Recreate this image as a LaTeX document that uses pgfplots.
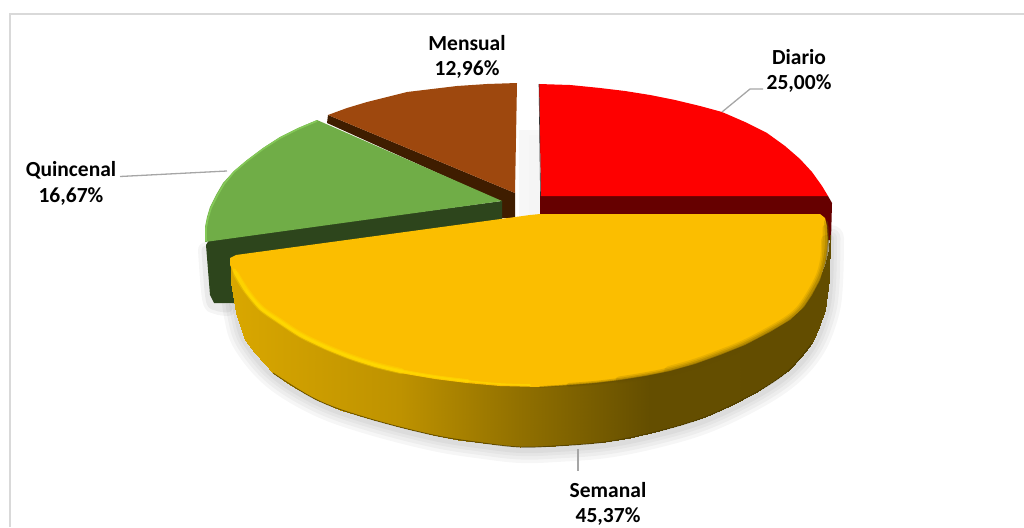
\documentclass[border=0pt]{standalone}
\usepackage{pgfplots}
\usepackage{pgfplotstable}
\pgfplotsset{compat=1.18}
\usepackage{fontspec}
\setmainfont{Carlito}
\definecolor{cRed}{HTML}{FE0000}
\definecolor{cRedD}{HTML}{660000}
\definecolor{cBrown}{HTML}{9E480E}
\definecolor{cBrownD}{HTML}{3F1D00}
\definecolor{cGreen}{HTML}{70AD47}
\definecolor{cGreenL}{HTML}{84C858}
\definecolor{cGreenD}{HTML}{2D451C}
\definecolor{cYel}{HTML}{FBBE00}
\definecolor{cYelL}{HTML}{FFDD00}
\definecolor{cYelD}{HTML}{634D00}
\definecolor{cLead}{HTML}{A6A6A6}
\definecolor{cFrame}{HTML}{D9D9D9}
\pgfplotstableread{
x y
831 238
830 283
826 313
813 346
790 373
756 396
706 420
656 435
606 445
556 449
521 450
484 446
434 438
368 421
318 403
274 376
246 343
237 316
233 283
}\outerarc
\pgfplotstableread{
x y c
231 264 1
231 282 1
236 313 6
236 268 6
236 268 6
236 313 6
245 340 15
245 282 15
245 282 15
245 340 15
255 353 25
255 295 25
255 295 25
255 353 25
273 373 43
273 310 43
273 310 43
273 373 43
290 385 60
290 320 60
290 320 60
290 385 60
317 400 87
317 335 87
317 335 87
317 400 87
340 410 110
340 345 110
340 345 110
340 410 110
367 418 137
367 355 137
367 355 137
367 418 137
400 427 170
400 365 170
400 365 170
400 427 170
433 435 203
433 372 203
433 372 203
433 435 203
458 440 228
458 375 228
458 375 228
458 440 228
483 443 253
483 378 253
483 378 253
483 443 253
520 447 290
520 380 290
520 380 290
520 447 290
555 446 325
555 380 325
555 380 325
555 446 325
605 442 375
605 376 375
605 376 375
605 442 375
630 438 400
630 373 400
630 373 400
630 438 400
655 432 425
655 368 425
655 368 425
655 432 425
680 425 450
680 360 450
680 360 450
680 425 450
705 417 475
705 352 475
705 352 475
705 417 475
730 406 500
730 342 500
730 342 500
730 406 500
755 393 525
755 330 525
755 330 525
755 393 525
772 382 542
772 322 542
772 322 542
772 382 542
789 370 559
789 310 559
789 310 559
789 370 559
801 357 571
801 302 571
801 302 571
801 357 571
812 343 582
812 290 582
812 290 582
812 343 582
819 327 589
819 280 589
819 280 589
819 327 589
825 310 595
825 265 595
825 265 595
825 310 595
829 280 599
829 250 599
829 250 599
829 280 599
830 236 600
830 235 600
}\sidequads
\tikzset{soft/.style={draw=black,line join=round,line cap=round,smooth,tension=0.6}}
\begin{document}
\begin{tikzpicture}
\path[use as bounding box] (0,0) rectangle (1024pt,527pt);
\begin{axis}[
  at={(0,0)},anchor=south west,
  width=1024pt,height=527pt,scale only axis,
  xmin=0,xmax=1024,ymin=0,ymax=527,y dir=reverse,
  hide axis,clip=true,
  colormap={yside}{rgb255(0)=(217,167,0) rgb255(170)=(190,146,0) rgb255(290)=(145,112,0) rgb255(420)=(100,78,0) rgb255(600)=(99,77,0)},
  point meta min=0,point meta max=600]
% frame
\addplot[draw=cFrame,line width=1.6pt] coordinates {(10,527)(10,14)(1024,14)};
% shadows
\addplot[fill=black!3,draw=none] coordinates {(519,130)(541,130)(541,216)(519,216)};
\addplot[fill=black!4,draw=none] coordinates {(529,135)(541,135)(541,216)(529,216)};
\addplot[soft,opacity=0.035,line width=26pt] table {\outerarc};
\addplot[soft,opacity=0.035,line width=19pt] table {\outerarc};
\addplot[soft,opacity=0.035,line width=12pt] table {\outerarc};
\addplot[soft,opacity=0.04,line width=6pt] table {\outerarc};
\addplot[soft,opacity=0.04,line width=16pt] coordinates {(206,250)(210,298)(216,306)(228,308)};
\addplot[soft,opacity=0.05,line width=9pt] coordinates {(206,250)(210,298)(216,306)(228,308)};
% Diario
\addplot[fill=cRedD,draw=none] coordinates {(540,196)(828,196)(832,203)(831,240)(540,240)};
\addplot[fill=cRed,draw=none] coordinates {(541,196)(539,84)(570,85)(600,88)(625,91)(650,95)(675,100)(700,106)(722,112)(745,122)(767,133)(785,146)(800,159)(812,172)(822,186)(828,196)};
\addplot[draw=black!80,line width=0.6pt] coordinates {(539,84)(540.5,196)};
% Mensual
\addplot[fill=cBrownD,draw=none] coordinates {(328,115)(327,123)(502,202)(502,218)(515,218)(515,193)};
\addplot[fill=cBrown,draw=none] coordinates {(515,193)(517,83)(487,84)(457,86)(432,89)(407,92)(387,97)(367,102)(347,108)(328,115)};
% Quincenal
\addplot[fill=cGreenD,draw=none] coordinates {(502,201)(209,240)(206,245)(210,295)(214,303)(235,303)(235,262)(502,222)};
\addplot[fill=cGreen,draw=none] coordinates {(502,201)(317,120)(298,128)(280,137)(263,148)(247,160)(234,171)(223,183)(216,195)(210,207)(207,217)(205,227)(205,242)};
\addplot[draw=cGreenL,line width=1.6pt,line join=round] coordinates {(317,121)(298,129)(280,138)(263,149)(247,161)(234,172)(224,184)(217,196)(211,208)(208,218)(206,228)(206,241)};
% Semanal, side
\addplot[patch,patch type=rectangle,shader=interp,point meta=\thisrow{c}] table {\sidequads};
\addplot[draw=cYelD!70!black,opacity=0.7,line width=0.9pt,smooth,tension=0.6] coordinates {(812,343)(789,370)(755,393)(705,417)(655,432)(605,442)(555,446)(520,447)(483,443)(433,435)(367,418)(317,400)(273,373)};
% Semanal, top
\addplot[fill=cYel,draw=none] coordinates {(230,258)(236,255)(530,215)(540,214)(820,214)(825,218)(827,226)(828,240)(826,260)(820,280)(812,295)(804,307)(790,320)(770,332)(745,345)(720,355)(695,364)(670,371)(645,376)(620,380)(595,383)(570,385)(540,387)(500,386)(467,383)(435,379)(400,373)(375,367)(350,359)(325,349)(300,337)(280,324)(260,310)(245,292)(235,275)(230,265)};
% rim, light part
\addplot[draw=cYelL,opacity=0.35,line width=6pt,line cap=round,smooth,tension=0.6] coordinates {(236,274)(246,290)(261,308)(281,322)(301,335)(326,347)(351,357)(376,365)(401,371)};
\addplot[draw=cYelL,opacity=0.5,line width=3.6pt,line cap=round,smooth,tension=0.6] coordinates {(234,270)(246,290)(261,308)(281,322)(301,335)(326,347)(351,357)(376,365)(401,371)(436,377)(468,381)};
\addplot[draw=cYelL,opacity=0.6,line width=1.6pt,line cap=round,smooth,tension=0.6] coordinates {(246,290)(261,308)(281,322)(301,335)(326,347)(351,357)(376,365)(401,371)(436,377)(468,381)(500,384)(530,385)};
% rim, dark part
\addplot[draw=cYelD,opacity=0.12,line width=10pt,line cap=round,smooth,tension=0.6] coordinates {(826,240)(825,260)(819,280)(803,307)(789,320)(769,332)(744,345)(719,355)(694,364)(669,371)};
\addplot[draw=cYelD,opacity=0.16,line width=7pt,line cap=round,smooth,tension=0.6] coordinates {(826,228)(826,240)(825,260)(819,280)(803,307)(789,320)(769,332)(744,345)(719,355)(694,364)(669,371)(644,376)(619,380)};
\addplot[draw=cYelD,opacity=0.22,line width=4pt,line cap=round,smooth,tension=0.6] coordinates {(826,222)(827,240)(825,260)(819,280)(803,307)(789,320)(769,332)(744,345)(719,355)(694,364)(669,371)(644,376)(619,380)(594,383)(569,385)};
\addplot[draw=cYelD,opacity=0.35,line width=1.6pt,line cap=round,smooth,tension=0.6] coordinates {(827,222)(828,240)(826,260)(820,280)(804,307)(790,320)(770,332)(745,345)(720,355)(695,364)(670,371)(645,376)(620,380)(595,383)(570,385)(540,387)};
% leaders
\addplot[draw=cLead,line width=1.3pt] coordinates {(722,112)(750,89)(763,89)};
\addplot[draw=cLead,line width=1.3pt] coordinates {(120,176.5)(227,171)};
\addplot[draw=cLead,line width=1.3pt] coordinates {(578,449)(578,471)};
% labels
\tikzset{lab/.style={font=\fontsize{21.5}{24}\selectfont\bfseries,anchor=center,text=black,inner sep=0pt}}
\node[lab] at (axis cs:467,43) {Mensual};
\node[lab] at (axis cs:467,69.5) {12,96\%};
\node[lab] at (axis cs:799,57) {Diario};
\node[lab] at (axis cs:799,83.5) {25,00\%};
\node[lab] at (axis cs:71,170) {Quincenal};
\node[lab] at (axis cs:71,196.5) {16,67\%};
\node[lab] at (axis cs:608,490) {Semanal};
\node[lab] at (axis cs:608,516.5) {45,37\%};
\end{axis}
\end{tikzpicture}
\end{document}
